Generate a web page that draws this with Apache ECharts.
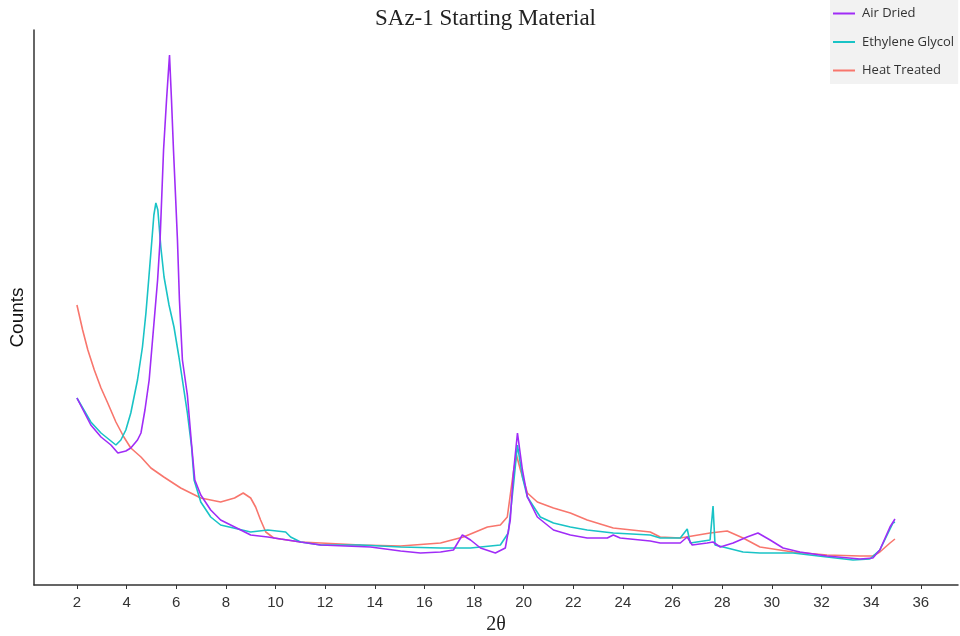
<!DOCTYPE html>
<html>
<head>
<meta charset="utf-8">
<script src="https://cdn.jsdelivr.net/npm/echarts@6/dist/echarts.min.js"></script>
<style>html,body{margin:0;padding:0;background:#fff}#c{width:960px;height:636px}</style>
</head>
<body>
<div id="c"></div>
<script>
const seriesNames = ['Air Dried', 'Ethylene Glycol', 'Heat Treated'];
const tickValues = [2,4,6,8,10,12,14,16,18,20,22,24,26,28,30,32,34,36];

const airDriedTheta = [2.00,2.56,2.97,3.37,3.65,3.97,4.17,4.44,4.58,4.74,4.91,5.08,5.25,5.35,5.49,5.61,5.73,5.81,5.89,5.98,6.05,6.13,6.25,6.45,6.62,6.75,6.99,7.39,7.79,8.60,9.00,9.69,10.21,11.01,11.82,13.83,15.04,15.84,16.65,17.17,17.53,17.86,18.26,18.86,19.26,19.46,19.58,19.75,19.95,20.15,20.55,21.20,21.88,22.56,23.37,23.61,23.89,25.10,25.50,26.31,26.59,26.79,27.39,27.63,27.92,28.44,29.00,29.44,29.93,30.45,31.13,32.22,33.55,34.07,34.35,34.76,34.96];
const airDriedCounts = [187,160,148,140,132,134,137,145,152,175,205,255,305,345,435,485,530,485,435,385,345,285,225,190,140,105,90,75,65,55,50,48,46,43,40,38,34,32,33,35,50,45,37,32,37,65,110,152,115,88,68,55,50,47,47,50,47,44,42,42,48,40,42,43,38,42,48,52,45,37,33,29,26,27,35,58,66];

const glycolTheta = [2.00,2.56,2.97,3.37,3.57,3.77,3.97,4.17,4.44,4.64,4.78,4.89,5.02,5.10,5.18,5.26,5.38,5.51,5.71,5.91,6.11,6.25,6.45,6.62,6.72,6.99,7.39,7.79,9.00,9.69,10.41,10.61,11.01,11.82,13.43,15.04,16.65,17.86,19.06,19.38,19.58,19.75,19.95,20.15,20.67,21.20,21.88,22.56,23.61,25.10,25.50,26.31,26.59,26.71,27.51,27.63,27.71,28.20,28.84,29.52,30.85,32.22,33.27,33.95,34.35,34.88,34.96];
const glycolCounts = [187,163,152,144,140,145,155,172,205,238,272,305,345,370,382,375,338,308,280,258,228,205,172,138,105,83,68,60,53,55,53,48,43,40,40,38,37,37,40,52,98,140,108,88,68,62,58,55,52,50,47,47,56,42,45,79,40,37,33,32,32,28,25,26,35,62,63];

const heatTheta = [2.00,2.23,2.44,2.70,2.97,3.24,3.57,3.89,4.17,4.58,4.98,5.50,6.18,6.99,7.79,8.35,8.70,9.00,9.20,9.40,9.61,9.93,11.01,11.82,13.43,15.04,16.65,17.57,18.54,19.06,19.34,19.58,19.71,19.87,20.15,20.55,21.20,21.88,22.56,23.61,25.10,25.50,26.31,27.51,28.20,28.84,29.52,30.85,32.22,33.55,34.07,34.35,34.76,34.96];
const heatCounts = [280,255,235,215,197,182,163,148,137,128,117,108,97,87,83,87,92,87,78,65,53,47,43,42,40,39,42,48,58,60,68,112,130,115,92,83,77,72,65,57,53,48,47,52,54,47,38,33,30,29,29,33,42,46];

const colors = ['#A02CF7', '#19C3C6', '#F8766D'];

function pairs(xs, ys) { return xs.map((x, i) => [x, ys[i]]); }

const chart = echarts.init(document.getElementById('c'), null, {renderer: 'canvas'});
chart.setOption({
  animation: false,
  backgroundColor: '#ffffff',
  title: {
    text: 'SAz-1 Starting Material',
    left: 370, top: 2,
    textStyle: {fontFamily: 'Liberation Serif', fontSize: 23, fontWeight: 'normal', color: '#222'}
  },
  legend: {
    data: seriesNames,
    orient: 'vertical',
    left: 830, top: 0,
    padding: [7, 4, 7, 3],
    icon: 'rect',
    itemWidth: 22, itemHeight: 2, itemGap: 15.5,
    backgroundColor: '#F2F2F2',
    textStyle: {fontFamily: 'Open Sans', fontSize: 13, color: '#333', padding: [0, 0, 0, 2]}
  },
  grid: {left: 34, right: 2, top: 30, bottom: 51, containLabel: false, outerBoundsMode: 'none'},
  xAxis: {
    type: 'value', min: 0.27, max: 37.5,
    name: '2θ', nameLocation: 'middle', nameGap: 29,
    nameTextStyle: {fontFamily: 'Liberation Serif', fontSize: 20, color: '#222'},
    axisLine: {show: true, lineStyle: {color: '#333', width: 1.5}},
    axisTick: {show: true, length: 4, customValues: tickValues, lineStyle: {color: '#333'}},
    axisLabel: {customValues: tickValues, margin: 10, fontFamily: 'Liberation Sans', fontSize: 15, color: '#333'},
    splitLine: {show: false}
  },
  yAxis: {
    type: 'value', min: 0, max: 555,
    name: 'Counts', nameLocation: 'middle', nameGap: 7, nameRotate: 90,
    nameTextStyle: {fontFamily: 'Liberation Sans', fontSize: 19, color: '#111', padding: [0, 20, 0, 0]},
    axisLine: {show: true, lineStyle: {color: '#333', width: 1.5}},
    axisTick: {show: false}, axisLabel: {show: false}, splitLine: {show: false}
  },
  series: [
    {name: seriesNames[0], type: 'line', symbol: 'none', data: pairs(airDriedTheta, airDriedCounts), lineStyle: {width: 1.6, color: colors[0]}, itemStyle: {color: colors[0]}, z: 3},
    {name: seriesNames[1], type: 'line', symbol: 'none', data: pairs(glycolTheta, glycolCounts), lineStyle: {width: 1.6, color: colors[1]}, itemStyle: {color: colors[1]}, z: 2},
    {name: seriesNames[2], type: 'line', symbol: 'none', data: pairs(heatTheta, heatCounts), lineStyle: {width: 1.6, color: colors[2]}, itemStyle: {color: colors[2]}, z: 1}
  ]
});
</script>
</body>
</html>
